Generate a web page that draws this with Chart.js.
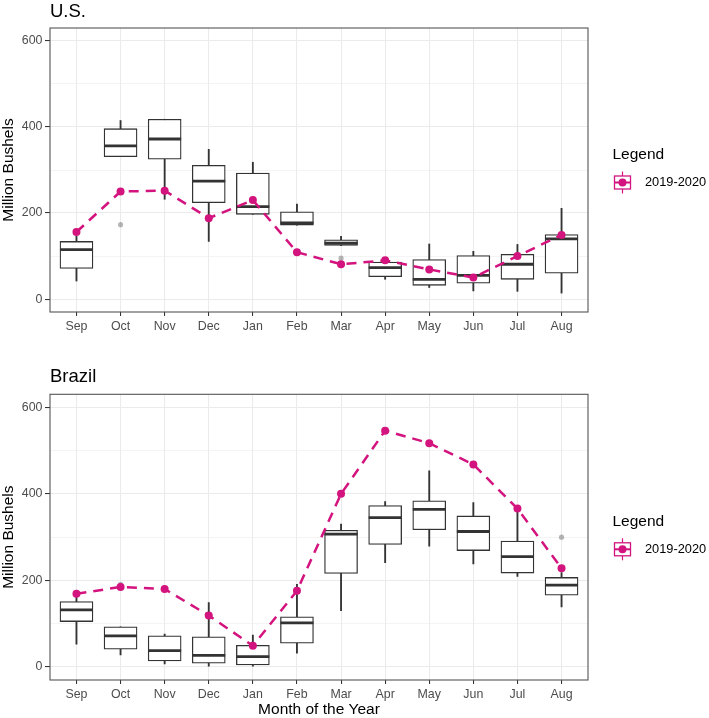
<!DOCTYPE html>
<html><head><meta charset="utf-8">
<script src="https://cdn.jsdelivr.net/npm/chart.js@4/dist/chart.umd.min.js"></script>
<style>
html,body{margin:0;padding:0;background:#fff;}
#wrap{position:relative;width:709px;height:718px;overflow:hidden;}
canvas{position:absolute;left:0;}
</style></head><body>
<div id="wrap">
<canvas id="c1" width="709" height="345" style="top:0;width:709px;height:345px"></canvas>
<canvas id="c2" width="709" height="373" style="top:345px;width:709px;height:373px"></canvas>
</div>
<script>
// ---------- data ----------
const months = ['Sep','Oct','Nov','Dec','Jan','Feb','Mar','Apr','May','Jun','Jul','Aug'];
const seriesName = '2019-2020';
const yTicks = [0, 200, 400, 600];

// U.S. historical boxplot stats (Million Bushels)
const usMin = [42, 331, 232, 134, 197, 172, 124, 46, 27, 19, 18, 14];
const usQ1  = [71, 331, 325, 224, 197, 172, 125, 52, 32, 37, 46, 60];
const usMed = [115, 356, 372, 274, 215, 177, 130, 73, 46, 55, 81, 140];
const usQ3  = [134, 396, 418, 311, 293, 203, 138, 86, 92, 101, 104, 150];
const usMax = [146, 415, 418, 348, 318, 221, 146, 88, 128, 111, 127, 211];
const usOutlierMonths = ['Oct', 'Mar'];
const usOutlierValues = [173, 95];
const us2019 = [156, 250, 252, 188, 230, 109, 81, 90, 69, 50, 100, 149];

// Brazil historical boxplot stats (Million Bushels)
const brMin = [53, 28, 7, 2, 2, 32, 130, 241, 279, 238, 209, 139];
const brQ1  = [105, 41, 14, 9, 5, 55, 216, 283, 317, 269, 217, 166];
const brMed = [132, 72, 38, 27, 24, 102, 307, 345, 364, 313, 255, 189];
const brQ3  = [151, 93, 72, 70, 50, 116, 316, 373, 384, 349, 291, 207];
const brMax = [162, 93, 76, 149, 74, 191, 330, 382, 453, 380, 363, 218];
const brOutlierMonths = ['Oct', 'Nov', 'Aug'];
const brOutlierValues = [191, 178, 300];
const br2019 = [169, 185, 180, 119, 49, 176, 400, 546, 517, 468, 366, 228];

// ---------- styling ----------
const FONT = '"Liberation Sans", Arial, sans-serif';
const MAG = '#D3147E';
const INK = '#333333';

const decor = {
  id: 'decor',
  afterDraw(chart, args, o) {
    const {ctx, chartArea: a} = chart;
    ctx.save();
    ctx.strokeStyle = '#555555';
    ctx.lineWidth = 1.1;
    ctx.strokeRect(a.left, a.top, a.right - a.left, a.bottom - a.top);
    ctx.fillStyle = '#000';
    ctx.textBaseline = 'middle';
    ctx.textAlign = 'left';
    ctx.font = '18.5px ' + FONT;
    ctx.fillText(o.title, a.left, o.titleY);
    // legend
    ctx.font = '15.5px ' + FONT;
    ctx.fillText('Legend', 612.5, o.legendY);
    const cx = 622.5, cy = o.keyY;
    ctx.strokeStyle = MAG;
    ctx.lineWidth = 1.2;
    ctx.beginPath(); ctx.moveTo(cx, cy - 11); ctx.lineTo(cx, cy + 11); ctx.stroke();
    ctx.fillStyle = '#fff';
    ctx.fillRect(cx - 8, cy - 6.5, 16, 13);
    ctx.lineWidth = 1.3;
    ctx.strokeRect(cx - 8, cy - 6.5, 16, 13);
    ctx.lineWidth = 2;
    ctx.beginPath(); ctx.moveTo(cx - 8, cy); ctx.lineTo(cx + 8, cy); ctx.stroke();
    ctx.fillStyle = MAG;
    ctx.beginPath(); ctx.arc(cx, cy, 4, 0, Math.PI * 2); ctx.fill();
    ctx.fillStyle = '#000';
    ctx.font = '12.8px ' + FONT;
    ctx.fillText(seriesName, 645, cy);
    ctx.restore();
  }
};

function makePanel(id, p) {
  const xs = months.map((m, i) => i + 1);
  const whisk = xs.map((x, i) => ({x, y: [p.lo[i], p.hi[i]]}));
  const boxes = xs.map((x, i) => ({x, y: [p.q1[i], p.q3[i]]}));
  const meds = xs.map((x, i) => ({x, y: p.med[i]}));
  const outs = p.outM.map((m, k) => ({x: months.indexOf(m) + 1, y: p.outV[k]}));
  const cur = xs.map((x, i) => ({x, y: p.cur[i]}));
  const canvas = document.getElementById(id);
  const H = canvas.height;
  return new Chart(canvas, {
    type: 'bar',
    data: {
      datasets: [
        {type: 'line', data: cur, order: 1, borderColor: MAG, borderWidth: 2.5,
         borderDash: [10, 7], pointRadius: 4, pointBackgroundColor: MAG,
         pointBorderWidth: 0, tension: 0, fill: false},
        {type: 'line', data: outs, order: 2, showLine: false, pointRadius: 2.6,
         pointBackgroundColor: 'rgba(0,0,0,0.28)', pointBorderWidth: 0},
        {type: 'line', data: meds, order: 3, showLine: false, pointStyle: 'line',
         pointRadius: 16.5, pointBorderColor: INK, pointBorderWidth: 2.8},
        {type: 'bar', data: boxes, order: 4, grouped: false, barThickness: 33,
         backgroundColor: '#ffffff', borderColor: INK, borderWidth: 1.3, borderSkipped: false},
        {type: 'bar', data: whisk, order: 5, grouped: false, barThickness: 1.2,
         backgroundColor: INK, borderWidth: 0}
      ]
    },
    options: {
      responsive: false,
      animation: false,
      devicePixelRatio: 1,
      events: [],
      layout: {padding: {left: 0, right: 121, top: p.padTop, bottom: 0}},
      plugins: {
        legend: {display: false},
        tooltip: {enabled: false},
        decor: {title: p.title, titleY: p.titleY, legendY: p.legendY, keyY: p.keyY}
      },
      scales: {
        x: {
          type: 'linear', min: 0.4, max: 12.6, offset: false,
          afterFit: s => { s.height = H - p.bottom; },
          ticks: {
            stepSize: 1, includeBounds: false, autoSkip: false, maxRotation: 0,
            padding: 3, color: '#4d4d4d', font: {family: FONT, size: 12.4},
            callback: v => months[v - 1] || ''
          },
          grid: {color: '#ebebeb', lineWidth: 1.07, offset: false, tickLength: 4,
                 tickColor: INK, tickWidth: 1.07},
          border: {display: false},
          title: {display: p.xTitle, text: 'Month of the Year', color: '#000',
                  font: {family: FONT, size: 15.5, lineHeight: 1.0}, padding: {top: 0, bottom: 0.5}}
        },
        y: {
          min: -30, max: 630,
          afterFit: s => { s.width = 50; },
          ticks: {
            stepSize: 100, includeBounds: false, padding: 2.5, color: '#4d4d4d',
            font: {family: FONT, size: 12.4},
            callback: v => yTicks.includes(v) ? String(v) : ''
          },
          grid: {
            color: '#ebebeb', tickLength: 5,
            lineWidth: c => (c.tick && yTicks.includes(c.tick.value)) ? 1.07 : 0.55,
            tickColor: c => (c.tick && yTicks.includes(c.tick.value)) ? INK : 'rgba(0,0,0,0)',
            tickWidth: 1.07
          },
          border: {display: false},
          title: {display: true, text: 'Million Bushels', color: '#000',
                  font: {family: FONT, size: 15.5, lineHeight: 1.0}, padding: {top: 0.5, bottom: 0}}
        }
      }
    },
    plugins: [decor]
  });
}

makePanel('c1', {
  title: 'U.S.', lo: usMin, q1: usQ1, med: usMed, q3: usQ3, hi: usMax,
  outM: usOutlierMonths, outV: usOutlierValues, cur: us2019,
  padTop: 28, bottom: 312, xTitle: false, titleY: 12, legendY: 155, keyY: 182.5
});
makePanel('c2', {
  title: 'Brazil', lo: brMin, q1: brQ1, med: brMed, q3: brQ3, hi: brMax,
  outM: brOutlierMonths, outV: brOutlierValues, cur: br2019,
  padTop: 49.3, bottom: 335, xTitle: true, titleY: 31.7, legendY: 176.7, keyY: 204.3
});
</script>
</body></html>
